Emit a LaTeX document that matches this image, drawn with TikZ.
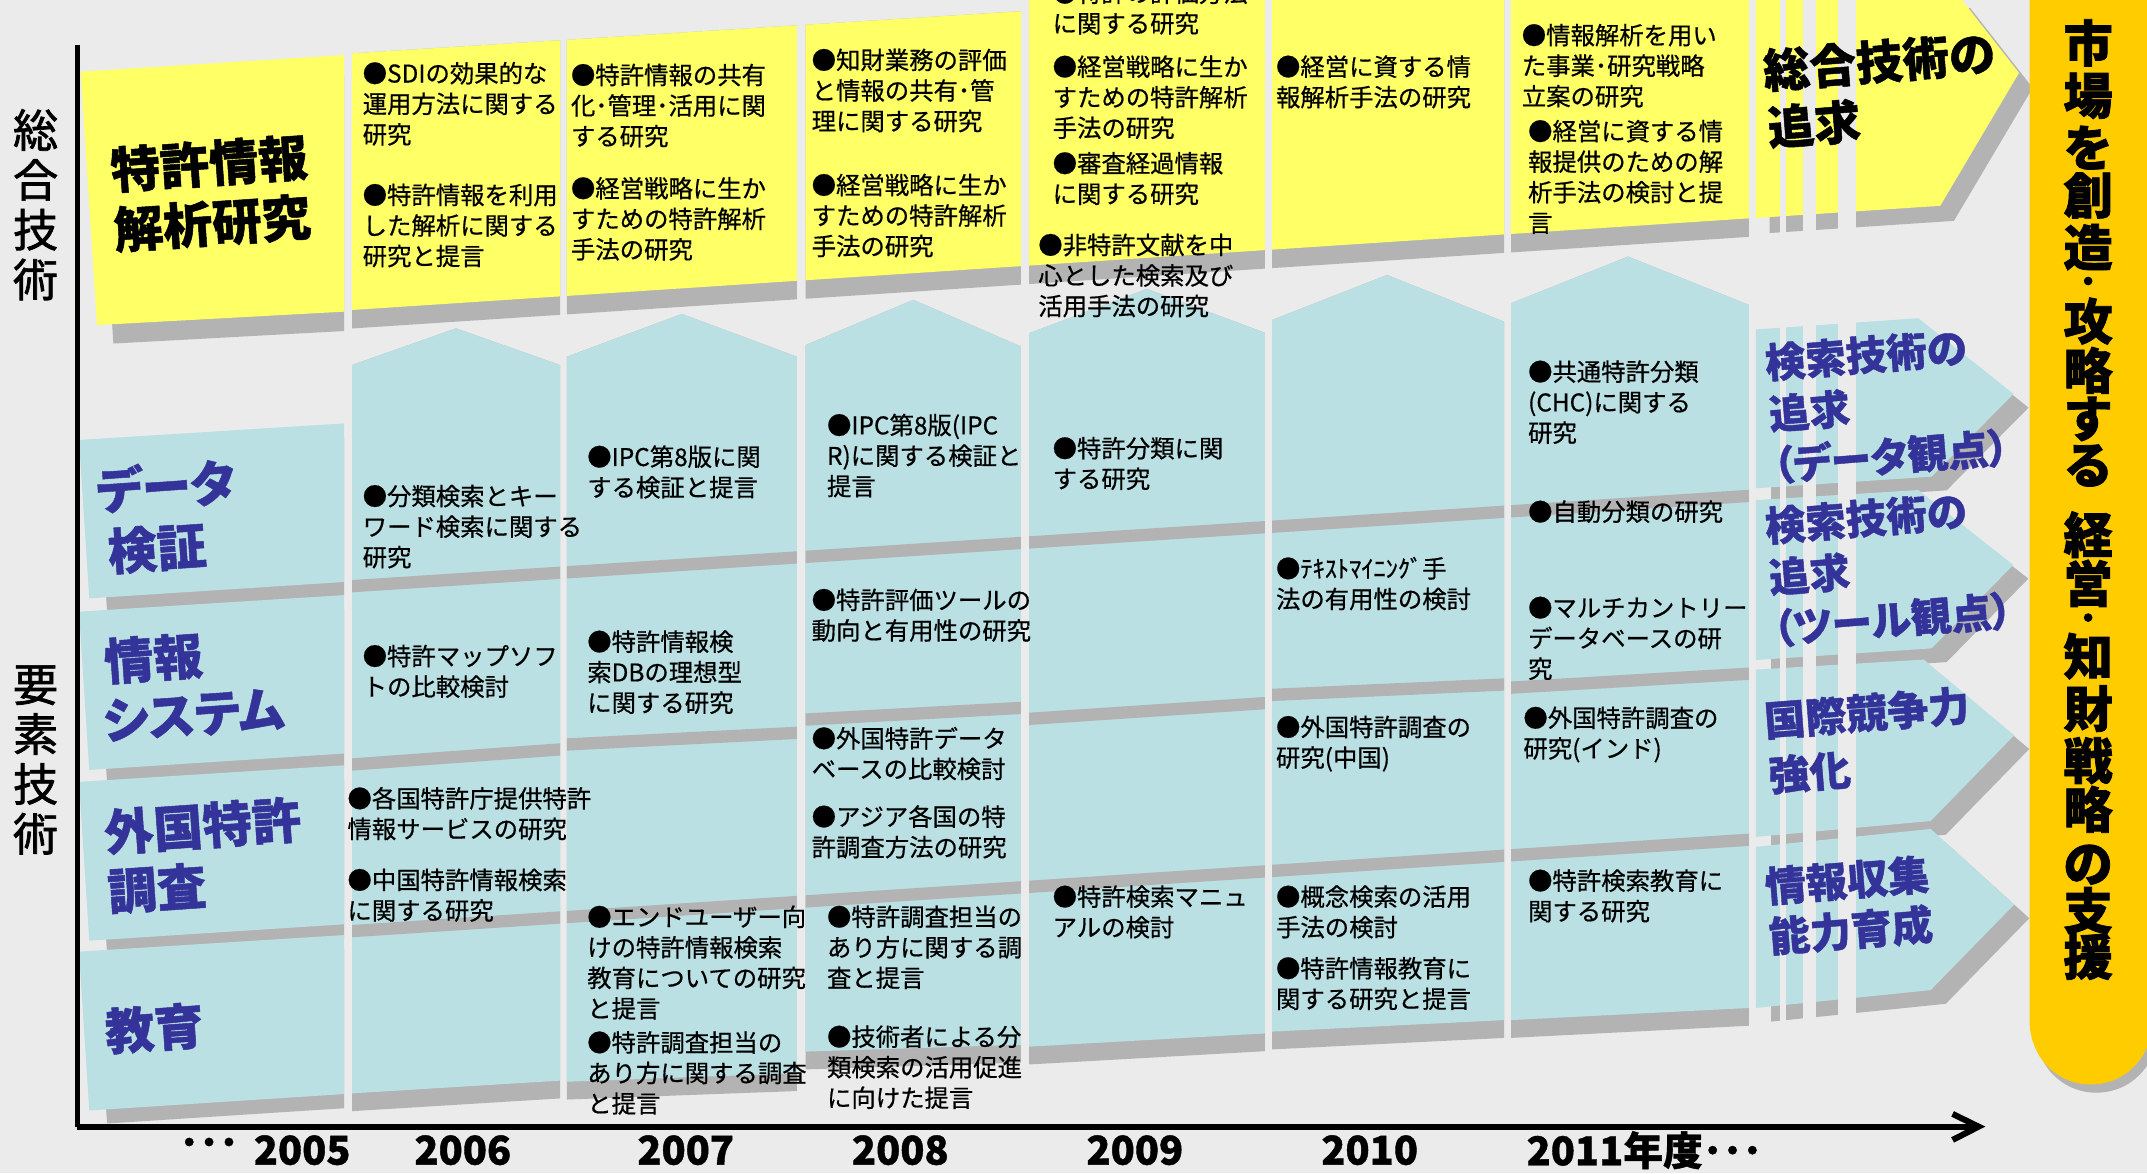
\documentclass[tikz,border=0pt]{standalone}
\usepackage{fontspec}
\setmainfont{Noto Sans CJK JP}
\newfontfamily\jp[FakeBold=0.6]{Noto Sans CJK JP}
\newfontfamily\jpy[FakeBold=1]{Noto Sans CJK JP}
\newfontfamily\jpm[FakeBold=1.5]{Noto Sans CJK JP}
\newfontfamily\jpr[FakeBold=1.5]{Noto Sans CJK JP}
\newfontfamily\jpdot[FakeBold=5]{Noto Sans CJK JP}
\newfontfamily\jpp[RawFeature=+palt,FakeBold=1]{Noto Sans CJK JP}
\definecolor{bg}{HTML}{EBEBEB}
\definecolor{yel}{HTML}{FFFF66}
\definecolor{lblue}{HTML}{BAE0E3}
\definecolor{shad}{HTML}{B3B3B3}
\definecolor{dblue}{HTML}{333399}
\definecolor{gold}{HTML}{FFCC00}
\begin{document}
\begin{tikzpicture}[x=0.5pt,y=-0.5pt]
\tikzset{
  txt/.style={anchor=west, align=left, inner sep=0pt, font=\jp\fontsize{8.9pt}{11.15pt}\selectfont, text=black},
  lab/.style={inner sep=0pt, font=\jpp\bfseries\fontsize{18pt}{18pt}\selectfont, rotate=4},
  blab/.style={lab, text=dblue},
  clab/.style={inner sep=0pt, anchor=north west, align=left, rotate=4.5, text=dblue},
  yr/.style={inner sep=0pt, font=\jpy\bfseries\fontsize{14.5pt}{14.5pt}\selectfont},
  side/.style={inner sep=0pt, align=center, font=\jpm\fontsize{16.5pt}{18.2pt}\selectfont},
  rt/.style={inner sep=0pt, font=\jpr\bfseries\fontsize{18pt}{18pt}\selectfont},
  rdot/.style={inner sep=0pt, font=\jpdot\bfseries\fontsize{9.5pt}{9.5pt}\selectfont},
}
\fill[bg] (0,0) rectangle (1568,857);
\useasboundingbox (0,0) rectangle (1568,857);
\begin{scope}
\clip (0,0) rectangle (1568,857);
% ---------- column 0 (labels)
\begin{scope}
\clip (0,0) rectangle (251.4,857);
\fill[shad,shift={(12,13.5)}] (58.9,52.3) -- (251.5,40.2) -- (251.5,227.6) -- (70.8,237.4) -- cycle;
\fill[yel] (58.9,52.3) -- (251.5,40.2) -- (251.5,227.6) -- (70.8,237.4) -- cycle;
\foreach \t/\b in {321.3/437, 446.7/562.3, 571/687, 695/811}{
  \fill[shad,shift={(13,9.5)}] (57.7,\t) -- (251.5,{\t-12.1}) -- (251.5,{\b-12}) -- (65.2,\b) -- cycle;
  \fill[lblue] (57.7,\t) -- (251.5,{\t-12.1}) -- (251.5,{\b-12}) -- (65.2,\b) -- cycle;
}
\end{scope}
% ---------- columns 1..6
\foreach \xl/\xr/\ytl/\ytr/\shl/\ax/\ay/\shr/\bl/\br/\ssl/\ssr in {
  257.1/409/39/29.4/266.6/333/239.8/266.6/798.5/789.2/553.8/542.8,
  414/582/29.1/18.5/260.5/498/229.3/260.5/790/783.8/539.2/530.7,
  588.3/745.6/18.1/8.2/252/667/219/253/768/763/521/512.5,
  751.5/923.8/-5/-5/243.4/837.6/211/243/764.4/754.7/520.5/509,
  929/1098.4/-5/-5/233.7/1013/200.8/234.9/753.4/745/503/495.4,
  1103.5/1277.3/-5/-5/221.5/1189/187.4/222.7/745/736.1/497.7/487.5}{
  \fill[shad] (\xl,\ytl) -- (\xr,\ytr) -- (\xr,{226.4-0.0656*(\xr-257)+13.5}) -- (\xl,{226.4-0.0656*(\xl-257)+13.5}) -- cycle;
  \fill[yel] (\xl,\ytl) -- (\xr,\ytr) -- (\xr,{226.4-0.0656*(\xr-257)}) -- (\xl,{226.4-0.0656*(\xl-257)}) -- cycle;
  \fill[shad] (\xl,\shl) -- (\ax,\ay) -- (\xr,\shr) -- (\xr,{\br+13}) -- (\xl,{\bl+13}) -- cycle;
  \fill[lblue] (\xl,\shl) -- (\ax,\ay) -- (\xr,\shr) -- (\xr,\br) -- (\xl,\bl) -- cycle;
  \foreach \a/\s in {423.6/0.0646, 675.5/0.0654}{
    \fill[shad] (\xl,{\a-\s*(\xl-257)}) -- (\xr,{\a-\s*(\xr-257)}) -- (\xr,{\a-\s*(\xr-257)+9}) -- (\xl,{\a-\s*(\xl-257)+9}) -- cycle;
  }
  \fill[shad] (\xl,\ssl) -- (\xr,\ssr) -- (\xr,{\ssr+9}) -- (\xl,{\ssl+9}) -- cycle;
}
% ---------- column 7 arrows
\fill[shad,shift={(10,11)}] (1282.4,-5) -- (1429,-5) -- (1474.5,53.2) -- (1417,150.3) -- (1282.4,159.2) -- cycle;
\fill[yel] (1282.4,-5) -- (1429,-5) -- (1474.5,53.2) -- (1417,150.3) -- (1282.4,159.2) -- cycle;
\foreach \p in {
  {(1282.4,240.6) -- (1401,232.4) -- (1470.5,287.7) -- (1410.7,348.1) -- (1282.4,356.6)},
  {(1282.4,365.2) -- (1401,357.9) -- (1470.3,412.6) -- (1410.7,473.5) -- (1282.4,482)},
  {(1282.4,489) -- (1405,481.7) -- (1471,537) -- (1410,599.6) -- (1282.4,611.2)},
  {(1282.4,618.4) -- (1410,605.4) -- (1471,660.6) -- (1410,723.1) -- (1282.4,736.1)}}{
  \fill[shad,shift={(11,10)}] \p -- cycle;
  \fill[lblue] \p -- cycle;
}
\fill[bg] (1300,-5) rectangle (1304.3,760);
\fill[bg] (1316.7,-5) rectangle (1326,760);
\fill[bg] (1342.3,-5) rectangle (1355.4,760);
% ---------- right gold box
\fill[shad,shift={(4,6)}] (1482.2,-5) -- (1482.2,745) .. controls (1482.2,772) and (1502,792) .. (1527,792) .. controls (1552,792) and (1572,772) .. (1572,745) -- (1572,-5) -- cycle;
\fill[gold] (1482.2,-5) -- (1482.2,745) .. controls (1482.2,772) and (1502,792) .. (1527,792) .. controls (1552,792) and (1572,772) .. (1572,745) -- (1572,-5) -- cycle;
% ---------- axes
\draw[line width=1.7pt] (56.7,33) -- (56.7,822.8);
\draw[line width=2.2pt] (55.9,822.8) -- (1442,822.8);
\draw[line width=2.2pt, line join=miter] (1426,813.5) -- (1445,822.8) -- (1426,832.5);
\end{scope}

% ---------- side labels
\node[side] (s1) at (26,149.5) {総\\合\\技\\術};
\node[side] (s2) at (26,555) {要\\素\\技\\術};

% ---------- column 0 labels
\node[lab] (l1) at (152.7,119.3) {特許情報};
\node[lab] (l2) at (155,163) {解析研究};
\node[blab] (l3) at (121,354.7) {データ};
\node[blab] (l4) at (114.6,400.5) {検証};
\node[blab] (l5) at (112,480.8) {情報};
\node[blab] (l6) at (141.2,522.2) {システム};
\node[blab] (l7) at (148,603) {外国特許};
\node[blab] (l8) at (114.6,648.8) {調査};
\node[blab] (l9) at (112.7,751) {教育};

% ---------- column texts
\node[txt] (t1) at (264.5,75.8) {●SDIの効果的な\\運用方法に関する\\研究};
\node[txt] (t2) at (264.5,164.7) {●特許情報を利用\\した解析に関する\\研究と提言};
\node[txt] (t3) at (264.5,384.6) {●分類検索とキー\\ワード検索に関する\\研究};
\node[txt] (t4) at (264.5,490.3) {●特許マップソフ\\トの比較検討};
\node[txt] (t5) at (253.4,594.2) {●各国特許庁提供特許\\情報サービスの研究};
\node[txt] (t6) at (253.4,653.8) {●中国特許情報検索\\に関する研究};
\node[txt] (t7) at (416.6,77.1) {●特許情報の共有\\化･管理･活用に関\\する研究};
\node[txt] (t8) at (416.6,159.8) {●経営戦略に生か\\すための特許解析\\手法の研究};
\node[txt] (t9) at (428.5,344.7) {●IPC第8版に関\\する検証と提言};
\node[txt] (t10) at (428.5,490.9) {●特許情報検\\索DBの理想型\\に関する研究};
\node[txt] (t11) at (428.5,703) {●エンドユーザー向\\けの特許情報検索\\教育についての研究\\と提言};
\node[txt] (t12) at (428.5,783.6) {●特許調査担当の\\あり方に関する調査\\と提言};
\node[txt] (t13) at (592.4,66.1) {●知財業務の評価\\と情報の共有･管\\理に関する研究};
\node[txt] (t14) at (592.4,157.4) {●経営戦略に生か\\すための特許解析\\手法の研究};
\node[txt] (t15) at (603.6,332.7) {●IPC第8版(IPC\\R)に関する検証と\\提言};
\node[txt] (t16) at (592.4,449.3) {●特許評価ツールの\\動向と有用性の研究};
\node[txt] (t17) at (592.4,550.3) {●外国特許データ\\ベースの比較検討};
\node[txt] (t18) at (592.4,607.5) {●アジア各国の特\\許調査方法の研究};
\node[txt] (t19) at (603.6,691.8) {●特許調査担当の\\あり方に関する調\\査と提言};
\node[txt] (t20) at (603.6,779.4) {●技術者による分\\類検索の活用促進\\に向けた提言};
\node[txt] (t21) at (768.4,5.9) {●特許の評価方法\\に関する研究};
\node[txt] (t22) at (768.4,71) {●経営戦略に生か\\すための特許解析\\手法の研究};
\node[txt] (t23) at (768.4,130.4) {●審査経過情報\\に関する研究};
\node[txt] (t24) at (757.9,201.2) {●非特許文献を中\\心とした検索及び\\活用手法の研究};
\node[txt] (t25) at (768.4,338.5) {●特許分類に関\\する研究};
\node[txt] (t26) at (768.4,666) {●特許検索マニュ\\アルの検討};
\node[txt] (t27) at (931.5,59.8) {●経営に資する情\\報解析手法の研究};
\node[txt] (t28) at (931.5,426.2) {●ﾃｷｽﾄﾏｲﾆﾝｸﾞ手\\法の有用性の検討};
\node[txt] (t29) at (931.5,543.1) {●外国特許調査の\\研究(中国)};
\node[txt] (t30) at (931.5,666) {●概念検索の活用\\手法の検討};
\node[txt] (t31) at (931.5,718.3) {●特許情報教育に\\関する研究と提言};
\node[txt] (t32) at (1111,48) {●情報解析を用い\\た事業･研究戦略\\立案の研究};
\node[txt] (t33) at (1115.6,129.2) {●経営に資する情\\報提供のための解\\析手法の検討と提\\言};
\node[txt] (t34) at (1115.6,293.7) {●共通特許分類\\(CHC)に関する\\研究};
\node[txt] (t35) at (1115.6,373.7) {●自動分類の研究};
\node[txt] (t36) at (1115.6,466.2) {●マルチカントリー\\データベースの研\\究};
\node[txt] (t37) at (1112.2,536.4) {●外国特許調査の\\研究(インド)};
\node[txt] (t38) at (1115.6,654.3) {●特許検索教育に\\関する研究};

% ---------- column 7 labels
\node[clab, text=black, font=\jpp\bfseries\fontsize{17pt}{20.9pt}\selectfont] (g1) at (1286,35.1) {総合技術の\\追求};
\node[clab, font=\jpp\bfseries\fontsize{14.8pt}{18.8pt}\selectfont] (g2) at (1287.5,250.6) {検索技術の\\追求\\（データ観点）};
\node[clab, font=\jpp\bfseries\fontsize{14.8pt}{18.8pt}\selectfont] (g3) at (1287.5,369.9) {検索技術の\\追求\\（ツール観点）};
\node[clab, font=\jpp\bfseries\fontsize{15pt}{20pt}\selectfont] (g4) at (1287,511.9) {国際競争力\\強化};
\node[clab, font=\jpp\bfseries\fontsize{15pt}{18.3pt}\selectfont] (g5) at (1287.5,632.9) {情報収集\\能力育成};

% ---------- right vertical text
\foreach \c/\yy [count=\i] in {市/31.3,場/70,を/107.8,創/142.7,造/180.5,攻/234.5,略/270.5,す/306,る/340,経/390.5,営/426,知/479.2,財/517.5,戦/555.5,略/591,の/631.5,支/665,援/698.5}{
  \node[rt] (r\i) at (1525,\yy) {\c};
}
\node[rdot] (rd1) at (1525,207.5) {・};
\node[rdot] (rd2) at (1525,453.3) {・};

% ---------- years
\node[yr] (d0) at (152.7,838) {･･･};
\node[yr] (y5) at (220.7,840) {2005};
\node[yr] (y6) at (338,840) {2006};
\node[yr] (y7) at (500.8,840) {2007};
\node[yr] (y8) at (657.5,840) {2008};
\node[yr] (y9) at (828.8,840) {2009};
\node[yr] (y10) at (1000.3,840) {2010};
\node[yr, anchor=west] (y11) at (1114.5,840) {2011年度･･･};
\end{tikzpicture}
\end{document}
